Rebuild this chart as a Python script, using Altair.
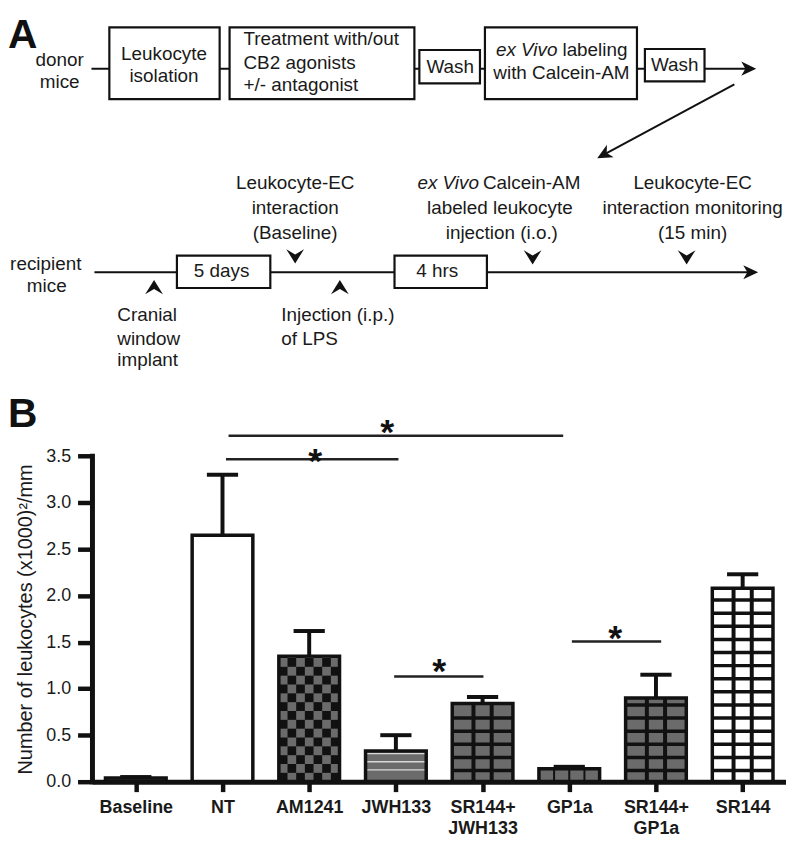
import json
import altair as alt
import pandas as pd

# ---------------------------------------------------------------- Panel B data
categories = ["Baseline", "NT", "AM1241", "JWH133", "SR144+JWH133", "GP1a", "SR144+GP1a", "SR144"]
label_lines = [["Baseline"], ["NT"], ["AM1241"], ["JWH133"], ["SR144+", "JWH133"],
               ["GP1a"], ["SR144+", "GP1a"], ["SR144"]]
means = [0.04, 2.65, 1.35, 0.33, 0.84, 0.14, 0.90, 2.08]
sems = [0.01, 0.65, 0.27, 0.17, 0.07, 0.02, 0.25, 0.15]
patterns = ["dark", "open", "checker", "stripes", "grid", "cells4", "grid", "opengrid"]
y_ticks = [0.0, 0.5, 1.0, 1.5, 2.0, 2.5, 3.0, 3.5]
y_title = "Number of leukocytes (x1000)\u00b2/mm"

# significance brackets (category-index units / y-value units)
sig_x1 = [1.07, 1.04, 2.98, 5.03]
sig_x2 = [4.93, 3.03, 4.01, 6.06]
sig_y = [3.72, 3.467, 1.131, 1.508]
star_x = [2.90, 2.07, 3.50, 5.53]
star_y = [3.85, 3.54, 1.28, 1.63]
star_txt = ["*", "*", "*", "*"]

# ---------------------------------------------------------------- Panel A (schematic) layout, reference pixel units
box_x1 = [110, 231, 422, 488, 649, 178, 397]
box_x2 = [221, 417, 483, 641, 709, 272, 490]
box_y1 = [25, 25, 48, 25, 47, 257, 257]
box_y2 = [98, 98, 82, 98, 80, 290, 290]

line_x1 = [92, 739, 95]
line_y1 = [67, 83, 274]
line_x2 = [752, 610, 754]
line_y2 = [67, 153, 274]

head_x = [761, 601, 763]
head_y = [67, 158, 274]
head_angle = [0, 151.5, 0]

chev_x = [297, 536, 691, 155, 342]
chev_y = [265, 266, 266, 282, 282]
chev_angle = [0, 0, 0, 180, 180]

ctext = ["donor", "mice", "Leukocyte", "isolation", "Wash", "Wash", "with Calcein-AM",
         "recipient", "mice", "5 days", "4 hrs", "Leukocyte-EC", "interaction", "(Baseline)",
         "labeled leukocyte", "injection (i.o.)", "Leukocyte-EC", "interaction monitoring", "(15 min)"]
ctext_x = [60, 60, 165, 165, 453, 679, 565, 46, 47, 223, 440, 297, 297, 297, 503, 505, 697, 697, 697]
ctext_y = [58, 81, 52, 74, 65, 63, 71, 266, 288, 273, 273, 183, 209, 234, 209, 234, 183, 209, 234]

ltext = ["Treatment with/out", "CB2 agonists", "+/- antagonist", "labeling", "Calcein-AM",
         "Cranial", "window", "implant", "Injection (i.p.)", "of LPS"]
ltext_x = [245, 245, 245, 566, 486, 118, 118, 118, 283, 283]
ltext_y = [37, 61, 84, 48, 183, 318, 342, 363, 318, 342]

itext = ["ex Vivo", "ex Vivo"]
itext_x = [561, 482]
itext_y = [48, 183]

panel_letters = ["A", "B"]
letter_y = [46, 431]

# ---------------------------------------------------------------- geometry / style
W, H = 698, 776
PAD = {"left": 85, "top": 0, "right": 0, "bottom": 53}
REF_X = [93, 791]
REF_Y = [8, 792]
REF_ZERO, REF_TOP = 792, 461
YMAX = 3.5 * (REF_Y[1] - REF_Y[0]) / (REF_ZERO - REF_TOP)
HALF = 0.35
CAP = 0.18
INK = "#111111"
TXT = "#1a1a1a"
GRAY = "#6b6b6b"
FILL = {"dark": "#4d4d4d", "open": "white", "checker": GRAY, "stripes": GRAY,
        "grid": GRAY, "cells4": GRAY, "opengrid": "white"}

ARROW = "M0,0 L-2,-0.95 L-1.45,0 L-2,0.95 Z"
CHEVRON = "M0,0 L-1,-1.6 L0,-1.0 L1,-1.6 Z"


def fx(v):  # reference-pixel column -> category-index units
    return (v - REF_X[0]) / (REF_X[1] - REF_X[0]) * 8 - 0.5


def fy(v):  # reference-pixel row -> value units
    return (REF_ZERO - v) * 3.5 / (REF_ZERO - REF_TOP)


XS = alt.Scale(domain=[-0.5, 7.5], nice=False, zero=False)
YS = alt.Scale(domain=[0, YMAX], nice=False, zero=False)


def X(f):
    return alt.X(f"{f}:Q", scale=XS)


def Y(f):
    return alt.Y(f"{f}:Q", scale=YS)


# ---------------------------------------------------------------- diagram layers
lines = alt.Chart(pd.DataFrame({"x1": [fx(v) for v in line_x1], "y1": [fy(v) for v in line_y1],
                                "x2": [fx(v) for v in line_x2], "y2": [fy(v) for v in line_y2]})).mark_rule(
    color=INK, strokeWidth=2).encode(x=X("x1"), y=Y("y1"), x2="x2:Q", y2="y2:Q")

boxes = alt.Chart(pd.DataFrame({"x1": [fx(v) for v in box_x1], "x2": [fx(v) for v in box_x2],
                                "y1": [fy(v) for v in box_y1], "y2": [fy(v) for v in box_y2]})).mark_rect(
    fill="white", stroke=INK, strokeWidth=2.2).encode(x=X("x1"), x2="x2:Q", y=Y("y1"), y2="y2:Q")

heads = alt.Chart(pd.DataFrame({"x": [fx(v) for v in head_x], "y": [fy(v) for v in head_y],
                                "a": head_angle})).mark_point(
    shape=ARROW, size=225, filled=True, color=INK, opacity=1, strokeWidth=0).encode(
    x=X("x"), y=Y("y"), angle=alt.Angle("a:Q", scale=None))

chevs = alt.Chart(pd.DataFrame({"x": [fx(v) for v in chev_x], "y": [fy(v) for v in chev_y],
                                "a": chev_angle})).mark_point(
    shape=CHEVRON, size=320, filled=True, color=INK, opacity=1, strokeWidth=0).encode(
    x=X("x"), y=Y("y"), angle=alt.Angle("a:Q", scale=None))

ctexts = alt.Chart(pd.DataFrame({"x": [fx(v) for v in ctext_x], "y": [fy(v) for v in ctext_y],
                                 "t": ctext})).mark_text(
    fontSize=19, align="center", baseline="middle", color=TXT).encode(x=X("x"), y=Y("y"), text="t:N")

ltexts = alt.Chart(pd.DataFrame({"x": [fx(v) for v in ltext_x], "y": [fy(v) for v in ltext_y],
                                 "t": ltext})).mark_text(
    fontSize=19, align="left", baseline="middle", color=TXT).encode(x=X("x"), y=Y("y"), text="t:N")

itexts = alt.Chart(pd.DataFrame({"x": [fx(v) for v in itext_x], "y": [fy(v) for v in itext_y],
                                 "t": itext})).mark_text(
    fontSize=19, align="right", baseline="middle", fontStyle="italic", color=TXT).encode(
    x=X("x"), y=Y("y"), text="t:N")

letters = alt.Chart(pd.DataFrame({"y": [fy(v) for v in letter_y], "t": panel_letters})).mark_text(
    fontSize=41, fontWeight="bold", align="left", baseline="alphabetic", color=INK).encode(
    x=alt.value(-PAD["left"]), y=Y("y"), text="t:N")

# ---------------------------------------------------------------- bar layers
label_expr = " : ".join(f"datum.value == {i} ? {json.dumps(l)}" for i, l in enumerate(label_lines)) + " : ''"

n = len(categories)
bar_df = pd.DataFrame({
    "cat": categories,
    "x1": [i - HALF for i in range(n)],
    "x2": [i + HALF for i in range(n)],
    "xc": list(range(n)),
    "c1": [i - CAP for i in range(n)],
    "c2": [i + CAP for i in range(n)],
    "y0": [0.0] * n,
    "m": means,
    "up": [m + s for m, s in zip(means, sems)],
    "fill": [FILL[p] for p in patterns],
})

x_axis = alt.Axis(values=list(range(n)), labelExpr=label_expr, title=None, grid=False,
                  domainColor=INK, domainWidth=5, tickColor=INK, tickWidth=4.5, tickSize=10,
                  labelFontSize=18, labelFontWeight="bold", labelColor=TXT, labelPadding=7,
                  labelLineHeight=21.5, labelFlush=False, labelOverlap=False, zindex=1)
y_axis = alt.Axis(values=y_ticks, format=".1f", orient="left", domain=False, grid=False,
                  tickColor=INK, tickWidth=4.5, tickSize=15, labelFontSize=18, labelColor=TXT,
                  labelPadding=7, title=y_title, titleFontSize=20, titleFontWeight="normal",
                  titleColor=TXT, titlePadding=10,
                  titleY=((REF_ZERO + REF_TOP) / 2 - REF_Y[0]) * H / (REF_Y[1] - REF_Y[0]))

base = alt.Chart(bar_df).mark_rect(strokeWidth=0).encode(
    x=alt.X("x1:Q", scale=XS, axis=x_axis), x2="x2:Q",
    y=alt.Y("y0:Q", scale=YS, axis=y_axis), y2="m:Q",
    fill=alt.Fill("fill:N", scale=None))

# checkerboard cells
CELL_W, CELL_H, NCOL = 0.1, 0.095, 7
ck = {"x1": [], "x2": [], "y1": [], "y2": []}
for i, p in enumerate(patterns):
    if p != "checker":
        continue
    r = 0
    while r * CELL_H < means[i]:
        for c in range(NCOL):
            if (r + c) % 2 == 0:
                ck["x1"].append(i - HALF + c * CELL_W)
                ck["x2"].append(i - HALF + (c + 1) * CELL_W)
                ck["y1"].append(r * CELL_H)
                ck["y2"].append(min((r + 1) * CELL_H, means[i]))
        r += 1
checker = alt.Chart(pd.DataFrame(ck)).mark_rect(color=INK, strokeWidth=0).encode(
    x=X("x1"), x2="x2:Q", y=Y("y1"), y2="y2:Q")

# grid / stripe lines inside bars
gl = {"x1": [], "x2": [], "y1": [], "y2": [], "w": [], "col": []}


def add_line(x1, x2, y1, y2, w, col):
    gl["x1"].append(x1); gl["x2"].append(x2); gl["y1"].append(y1); gl["y2"].append(y2)
    gl["w"].append(w); gl["col"].append(col)


for i, p in enumerate(patterns):
    m = means[i]
    if p in ("grid", "opengrid"):
        for off in (-0.105, 0.105):
            add_line(i + off, i + off, 0, m, 4, INK)
        yy = 0.12
        while yy < m - 0.04:
            add_line(i - HALF, i + HALF, yy, yy, 3.5, INK)
            yy += 0.141
    elif p == "cells4":
        for j in (1, 2, 3):
            xx = i - HALF + 2 * HALF * j / 4
            add_line(xx, xx, 0, m, 2, INK)
    elif p == "stripes":
        yy = 0.127
        while yy < m - 0.02:
            add_line(i - HALF, i + HALF, yy, yy, 1.5, "#d9d9d9")
            yy += 0.088
gridlines = alt.Chart(pd.DataFrame(gl)).mark_rule(strokeCap="butt").encode(
    x=X("x1"), x2="x2:Q", y=Y("y1"), y2="y2:Q",
    strokeWidth=alt.StrokeWidth("w:Q", scale=None), color=alt.Color("col:N", scale=None))

outline = alt.Chart(bar_df).mark_rect(fill="white", fillOpacity=0, stroke=INK, strokeWidth=3.5).encode(
    x=X("x1"), x2="x2:Q", y=Y("y0"), y2="m:Q")

err_v = alt.Chart(bar_df).mark_rule(color=INK, strokeWidth=4).encode(
    x=X("xc"), y=Y("m"), y2="up:Q")

err_cap = alt.Chart(bar_df).mark_rule(color=INK, strokeWidth=4).encode(
    x=X("c1"), x2="c2:Q", y=Y("up"))

sig = alt.Chart(pd.DataFrame({"x1": sig_x1, "x2": sig_x2, "y": sig_y})).mark_rule(
    color="#222222", strokeWidth=2.5).encode(x=X("x1"), x2="x2:Q", y=Y("y"))

stars = alt.Chart(pd.DataFrame({"x": star_x, "y": star_y, "t": star_txt})).mark_text(
    fontSize=36, fontWeight="bold", align="center", baseline="middle", dy=9.5, color=INK).encode(
    x=X("x"), y=Y("y"), text="t:N")

y_line = alt.Chart(pd.DataFrame({"a": [y_ticks[0]], "b": [y_ticks[-1]]})).mark_rule(
    color=INK, strokeWidth=5, strokeCap="square").encode(
    x=alt.value(0), y=Y("a"), y2="b:Q")

chart = alt.layer(
    base, checker, gridlines, outline, err_v, err_cap, sig, stars, y_line,
    lines, boxes, heads, chevs, ctexts, ltexts, itexts, letters,
).properties(
    width=W, height=H, autosize=alt.AutoSizeParams(type="none"), padding=PAD,
    background="white").configure(font="Liberation Sans").configure_view(stroke=None)

chart.save("out.html", embed_options={"renderer": "svg", "actions": False})
